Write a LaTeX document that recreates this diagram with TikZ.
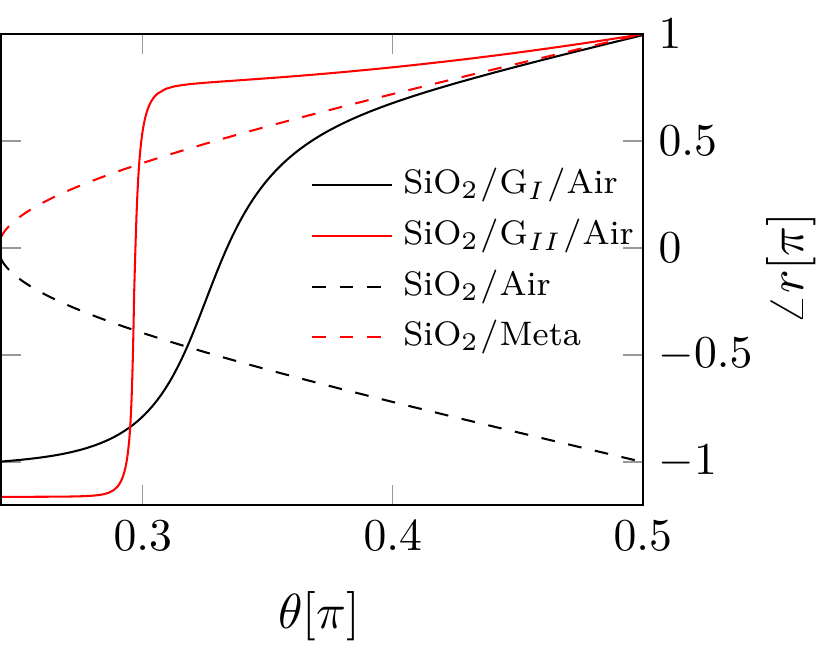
\documentclass[tikz,border=0pt]{standalone}

\tikzset{
	declare function={
		tir(\t)=atan2(sqrt((1.45*sin(180*\t))^2-1),1.45*cos(180*\t))/90;
		uI(\t)=100*(\t-0.3245);
		sI(\t)=0.5+atan(uI(\t)*(0.6+0.02*uI(\t)*uI(\t)))/180;
		uII(\t)=max(-50,min(50,1000*(\t-0.2966)));
		sII(\t)=0.5+atan(uII(\t)*(0.7+0.3*(uII(\t)<0)+(0.01+0.01*(uII(\t)<0))*uII(\t)*uII(\t)))/180;
		topII(\t)=1-1.9*(0.5-\t)+3.5*(0.5-\t)*(0.5-\t);
		gI(\t)=-1.02+(tir(\t)+1.02)*sI(\t);
		gII(\t)=-1.163+(topII(\t)+1.163)*sII(\t);
	},
	plotframe/.style={line width=0.45pt},
	tickmark/.style={gray!80,line width=0.3pt},
	ticklabel/.style={text=black,font=\normalsize},
	axislabel/.style={scale=1.08},
	curveGI/.style={black,line width=0.45pt},
	curveGII/.style={red,line width=0.45pt},
	curveAir/.style={black,dashed,line width=0.45pt},
	curveMeta/.style={red,dashed,line width=0.45pt},
	legtext/.style={anchor=west,text=black,font=\footnotesize,scale=0.93,inner sep=2.4pt},
}

\begin{document}
\begin{tikzpicture}[x=19.25cm,y=1.6478cm]
	\useasboundingbox (0.24292,-1.9206) rectangle (0.57612,1.1589);
	\coordinate (sw) at (0.2433,-1.2);
	\coordinate (ne) at (0.5,1);
	\foreach \x [count=\i] in {0.3,0.4,0.5}
	\draw[tickmark] (\x,1) -- ++(0pt,-0.155cm) (\x,-1.2) -- ++(0pt,0.155cm) (\x,-1.2) node[ticklabel,anchor=north] (xt\i) {$\x$};
	\foreach \y [count=\i] in {-1,-0.5,0,0.5,1}
	\draw[tickmark] (0.2433,\y) -- ++(0.155cm,0pt) (0.5,\y) -- ++(-0.155cm,0pt) node[ticklabel,anchor=west,at start] (yt\i) {$\y$};
	\draw[curveGI] plot[domain=0.2433:0.5,samples=160] (\x,{gI(\x)});
	\draw[curveGII] plot[domain=0.2433:0.29,samples=30] (\x,{gII(\x)})
		-- plot[domain=0.29:0.306,samples=140] (\x,{gII(\x)})
		-- plot[domain=0.306:0.5,samples=60] (\x,{gII(\x)});
	\draw[curveAir] plot[domain=0.2433:0.26,samples=25] (\x,{-tir(\x)})
		-- plot[domain=0.26:0.5,samples=100] (\x,{-tir(\x)});
	\draw[curveMeta] plot[domain=0.2433:0.26,samples=25] (\x,{tir(\x)})
		-- plot[domain=0.26:0.5,samples=100] (\x,{tir(\x)});
	\draw[plotframe] (sw) rectangle (ne);
	\draw[curveGI] (0.3678,0.294) -- (0.3998,0.294) node[legtext] (legGI) {SiO$_2$\kern.3pt/\kern.3pt G$_I$\kern.3pt/\kern.3pt Air};
	\draw[curveGII] (0.3678,0.056) -- (0.3998,0.056) node[legtext] (legGII) {SiO$_2$\kern.3pt/\kern.3pt G$_{II}$\kern.3pt/\kern.3pt Air};
	\draw[curveAir] (0.3678,-0.182) -- (0.3998,-0.182) node[legtext] (legAir) {SiO$_2$\kern.3pt/\kern.3pt Air};
	\draw[curveMeta] (0.3678,-0.416) -- (0.3998,-0.416) node[legtext] (legMeta) {SiO$_2$\kern.3pt/\kern.3pt Meta};
	\node[axislabel] (xlab) at (0.3705,-1.72) {$\theta[\pi]$};
	\node[axislabel,rotate=90] (ylab) at (0.5593,-0.098) {$\angle r[\pi]$};
\end{tikzpicture}
\end{document}
